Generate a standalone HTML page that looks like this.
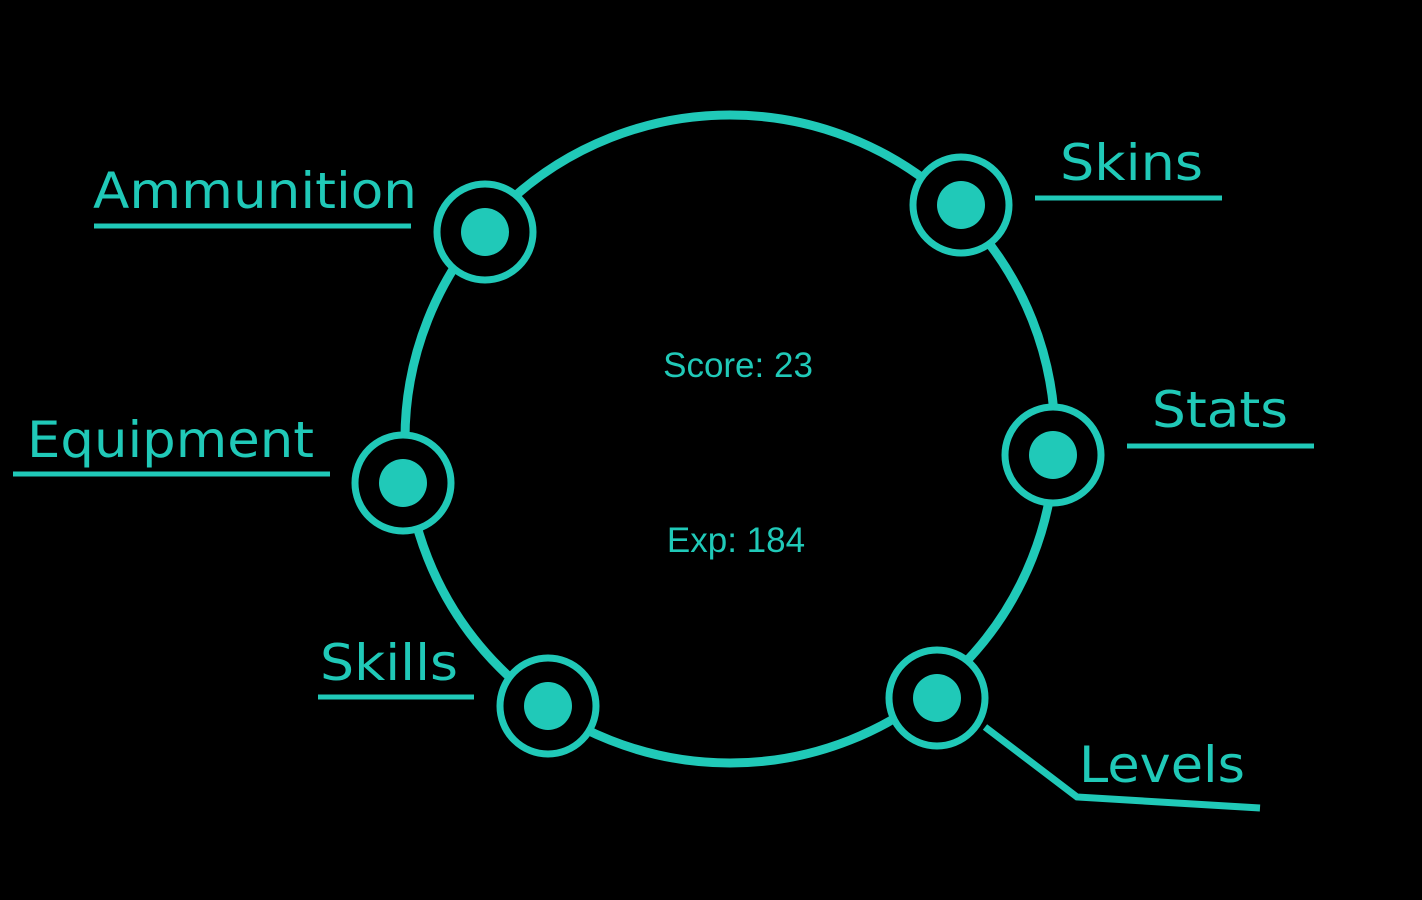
<!DOCTYPE html>
<html><head><meta charset="utf-8"><style>
html,body{margin:0;padding:0;background:#000;width:1422px;height:900px;overflow:hidden}
</style></head><body>
<svg width="1422" height="900" viewBox="0 0 1422 900" xmlns="http://www.w3.org/2000/svg">
<rect width="1422" height="900" fill="#000"/>
<g stroke="#20c9b8" fill="none">
<ellipse cx="730" cy="439" rx="325" ry="324" stroke-width="9"/>
<polyline points="985,727 1077,797 1260,808" stroke-width="7"/>
<g stroke-width="5">
<line x1="94" y1="226" x2="411" y2="226"/>
<line x1="1035" y1="198" x2="1222" y2="198"/>
<line x1="1127" y1="446" x2="1314" y2="446"/>
<line x1="13" y1="474" x2="330" y2="474"/>
<line x1="318" y1="697" x2="474" y2="697"/>
</g>
</g>
<g fill="#000" stroke="#20c9b8" stroke-width="7">
<circle cx="485" cy="232" r="48"/>
<circle cx="961" cy="205" r="48"/>
<circle cx="1053" cy="455" r="48"/>
<circle cx="403" cy="483" r="48"/>
<circle cx="548" cy="706" r="48"/>
<circle cx="937" cy="698" r="48"/>
</g>
<g fill="#20c9b8">
<circle cx="485" cy="232" r="24"/>
<circle cx="961" cy="205" r="24"/>
<circle cx="1053" cy="455" r="24"/>
<circle cx="403" cy="483" r="24"/>
<circle cx="548" cy="706" r="24"/>
<circle cx="937" cy="698" r="24"/>
</g>
<g fill="#20c9b8" font-family="'DejaVu Sans', sans-serif" font-size="50">
<text x="93" y="208" textLength="324" lengthAdjust="spacingAndGlyphs">Ammunition</text>
<text x="1060" y="180" textLength="143" lengthAdjust="spacingAndGlyphs">Skins</text>
<text x="1152" y="427" textLength="136" lengthAdjust="spacingAndGlyphs">Stats</text>
<text x="27" y="457" textLength="287" lengthAdjust="spacingAndGlyphs">Equipment</text>
<text x="320" y="680" textLength="138" lengthAdjust="spacingAndGlyphs">Skills</text>
<text x="1079" y="782" textLength="166" lengthAdjust="spacingAndGlyphs">Levels</text>
</g>
<g fill="#20c9b8" font-family="'Liberation Sans', sans-serif" font-size="35" text-anchor="middle">
<text x="738" y="377">Score: 23</text>
<text x="736" y="552">Exp: 184</text>
</g>
</svg>
</body></html>
